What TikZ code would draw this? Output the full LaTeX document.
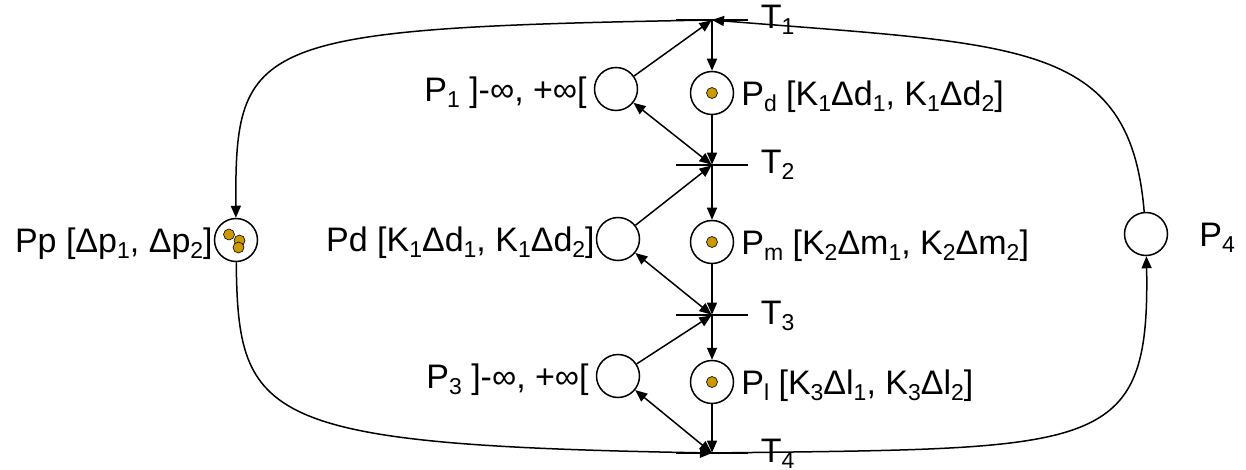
\documentclass[tikz,border=0pt]{standalone}
\usepackage{fontspec}
\setmainfont{Liberation Sans}
\usetikzlibrary{positioning, arrows.meta}
\definecolor{tokenfill}{HTML}{CC9900}
\newcommand{\low}[1]{\raisebox{-3pt}{\fontsize{11.5}{13}\selectfont #1}}

\begin{document}
\begin{tikzpicture}[
  x=0.5pt, y=-0.5pt,
  every node/.style={font=\fontsize{17}{20}\selectfont},
  >={Triangle[length=6pt, width=5pt]},
  place/.style={circle, draw, line width=0.75pt, minimum size=21.5pt, inner sep=0pt},
  trans/.style={rectangle, minimum width=36pt, minimum height=0pt, inner sep=0pt},
  bar/.style={line width=0.75pt},
  tok/.style={circle, draw, line width=0.3pt, fill=tokenfill, inner sep=0pt, minimum size=5.5pt},
  arc/.style={->, line width=0.75pt},
  tlabel/.style={anchor=base west, inner sep=0pt},
  lab/.style={yshift=-2pt}
]
\useasboundingbox (0,0) rectangle (1246,470);

% transitions
\node[trans] (t1) at (712,20) {};
\node[trans] (t2) at (712,165) {};
\node[trans] (t3) at (712,315) {};
\node[trans] (t4) at (712,453) {};
\foreach \t in {t1,t2,t3,t4}
  \draw[bar] (\t.west) -- (\t.east);

% places
\node[place] (pd) at (712,93) {};
\node[place] (p1) at (616,89) {};
\node[place] (pdl) at (618,239) {};
\node[place] (pm) at (712,242) {};
\node[place] (p3) at (618,376) {};
\node[place] (pl) at (712,382) {};
\node[place] (pp) at (236,240) {};
\node[place] (p4) at (1146,234) {};

% tokens
\foreach \p in {pd,pm,pl}
  \node[tok] (\p-tok) at (\p) {};
\node[tok] (pp-tok1) at ([xshift=-3.5pt, yshift=2.75pt]pp) {};
\node[tok] (pp-tok2) at ([xshift=1.75pt, yshift=-0.25pt]pp) {};
\node[tok] (pp-tok3) at ([xshift=1.25pt, yshift=-3.75pt]pp) {};

% labels
\node[lab, left=0pt of p1] (p1-lab) {P\low{1} ]-∞, +∞[};
\node[lab, right=0pt of pd] (pd-lab) {P\low{d} [K\low{1}Δd\low{1}, K\low{1}Δd\low{2}]};
\node[lab, left=-3pt of pdl] (pdl-lab) {Pd [K\low{1}Δd\low{1}, K\low{1}Δd\low{2}]};
\node[lab, right=0pt of pm] (pm-lab) {P\low{m} [K\low{2}Δm\low{1}, K\low{2}Δm\low{2}]};
\node[lab, left=0pt of p3] (p3-lab) {P\low{3} ]-∞, +∞[};
\node[lab, right=0pt of pl] (pl-lab) {P\low{l} [K\low{3}Δl\low{1}, K\low{3}Δl\low{2}]};
\node[lab, left=-3pt of pp] (pp-lab) {Pp [Δp\low{1}, Δp\low{2}]};
\node[lab, right=12pt of p4] (p4-lab) {P\low{4}};
\foreach \t/\n in {t1/1,t2/2,t3/3,t4/4}
  \node[tlabel] (\t-lab) at ([xshift=6pt, yshift=-4.5pt]\t.east) {T\low{\n}};

% arcs
\draw[arc] (t1) -- (pd);
\draw[arc] (pd) -- (t2);
\draw[arc] (t2) -- (pm);
\draw[arc] (pm) -- (t3);
\draw[arc] (t3) -- (pl);
\draw[arc] (pl) -- (t4);
\draw[arc] (p1) -- (t1);
\draw[arc, <->] (p1) -- (t2);
\draw[arc] (pdl) -- (t2);
\draw[arc, <->] (pdl) -- (t3);
\draw[arc] (p3) -- (t3);
\draw[arc, <->] (p3) -- (t4);

\draw[arc] (t1.center) .. controls (250,28) and (235,40) .. (pp);
\draw[arc] (p4) .. controls (1130,40) and (1020,45) .. (t1.center);
\draw[arc] (pp) .. controls (238,420) and (260,445) .. (t4.center);
\draw[arc] (t4.center) .. controls (1100,448) and (1150,455) .. (p4);

\end{tikzpicture}
\end{document}
